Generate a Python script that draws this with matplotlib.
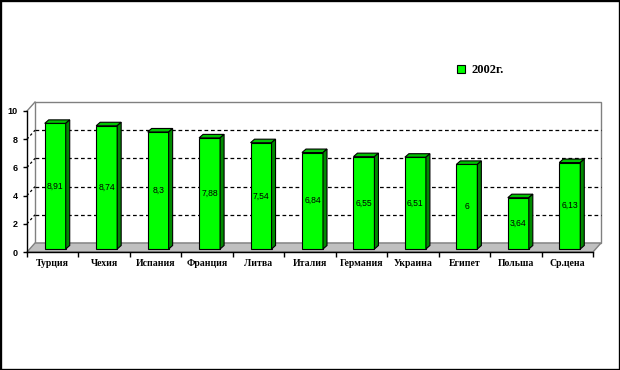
import numpy as np
import matplotlib
matplotlib.use("Agg")
import matplotlib.pyplot as plt
from matplotlib.patches import Polygon, Rectangle, Patch

# --- Data -------------------------------------------------------------------
countries = ["Турция", "Чехия", "Испания", "Франция", "Литва", "Италия",
             "Германия", "Украина", "Египет", "Польша", "Ср.цена"]
values = [8.91, 8.74, 8.3, 7.88, 7.54, 6.84, 6.55, 6.51, 6, 3.64, 6.13]
yticks = [0, 2, 4, 6, 8, 10]
series_name = "2002г."

# --- Style ------------------------------------------------------------------
FRONT, TOP, SIDE = "#00ff00", "#00c400", "#008a00"
SERIF_B = dict(family="Liberation Serif", weight="bold")
SANS = "Liberation Sans"

W, H = 620, 370
fig = plt.figure(figsize=(W/100, H/100), dpi=100)
# axes = front plane of the pseudo-3D plot, in pixels: x 27..593, y 111..252
ax = fig.add_axes([27/W, 1-252/H, 566/W, 141/H])
n = len(countries)
ax.set_xlim(-0.5, n-0.5)
ax.set_ylim(0, 10)
ax.patch.set_visible(False)

ppx, ppy = 566/n, 141/10
def px(dx, dy):
    """pixel offset -> data offset"""
    return dx/ppx, dy/ppy

WX, WY = px(8, 9)        # depth of the back wall
BX, BY = px(2.5, 3)      # bars sit a bit behind the front plane
TX, TY = px(4, 3.5)      # bar thickness (3D)
BW = 21/ppx

# back wall, floor, side wall edge
ax.add_patch(Rectangle((-0.5+WX, WY), n, 10, fc="white", ec="#808080",
                       lw=1, zorder=0, clip_on=False))
ax.add_patch(Polygon([(-0.5, 0), (n-0.5, 0), (n-0.5+WX, WY), (-0.5+WX, WY)],
                     fc="#c0c0c0", ec="#808080", lw=1, zorder=1, clip_on=False))
ax.plot([-0.5, -0.5+WX], [10, 10+WY], color="#808080", lw=1, zorder=1,
        clip_on=False)

for g in yticks[1:-1]:
    ax.plot([-0.5+WX, n-0.5+WX], [g+WY, g+WY], color="black", lw=0.9,
            dashes=(3, 2.2), zorder=1, clip_on=False)
    ax.plot([-0.5, -0.5+WX], [g, g+WY], color="black", lw=0.9,
            dashes=(2, 2), zorder=1, clip_on=False)

# bars
x = np.arange(n)
ax.bar(x + BX, values, width=BW, bottom=BY, color=FRONT, ec="black",
       lw=0.8, zorder=3)
for i, v in enumerate(values):
    x0 = i + BX - BW/2
    ax.add_patch(Polygon([(x0, v+BY), (x0+BW, v+BY), (x0+BW+TX, v+BY+TY),
                          (x0+TX, v+BY+TY)], fc=TOP, ec="black", lw=0.8,
                         zorder=3, clip_on=False))
    ax.add_patch(Polygon([(x0+BW, BY), (x0+BW+TX, BY+TY),
                          (x0+BW+TX, v+BY+TY), (x0+BW, v+BY)], fc=SIDE,
                         ec="black", lw=0.8, zorder=3, clip_on=False))
    ax.text(i + BX, BY + v/2, f"{v:g}".replace(".", ","), ha="center",
            va="center", fontsize=6.2, family=SANS, zorder=4)

# axes
for s in ("top", "right"):
    ax.spines[s].set_visible(False)
for s in ("left", "bottom"):
    ax.spines[s].set_linewidth(1)
    ax.spines[s].set_zorder(2)
ax.set_yticks(yticks)
ax.set_yticklabels([str(t) for t in yticks], fontsize=6.5, family=SANS,
                   weight="bold")
ax.tick_params(axis="y", length=3, width=1, pad=3.5)
ax.set_xticks(x)
ax.set_xticklabels(countries, fontsize=7, **SERIF_B)
ax.tick_params(axis="x", which="major", length=0, pad=5)
ax.set_xticks(np.arange(n+1) - 0.5, minor=True)
ax.tick_params(axis="x", which="minor", length=3.5, width=1)

# legend
fig.legend(handles=[Patch(fc=FRONT, ec="black", lw=0.8, label=series_name)],
           loc="center left", bbox_to_anchor=(446/W, 1-70/H), frameon=False,
           handlelength=0.6, handleheight=0.6, handletextpad=0.5,
           prop=dict(size=9, **SERIF_B))

# outer frame
fig.patches.append(Rectangle((0, 0), 1, 1, transform=fig.transFigure,
                             fill=False, ec="black", lw=2.4))

fig.savefig("out.png", dpi=100)
